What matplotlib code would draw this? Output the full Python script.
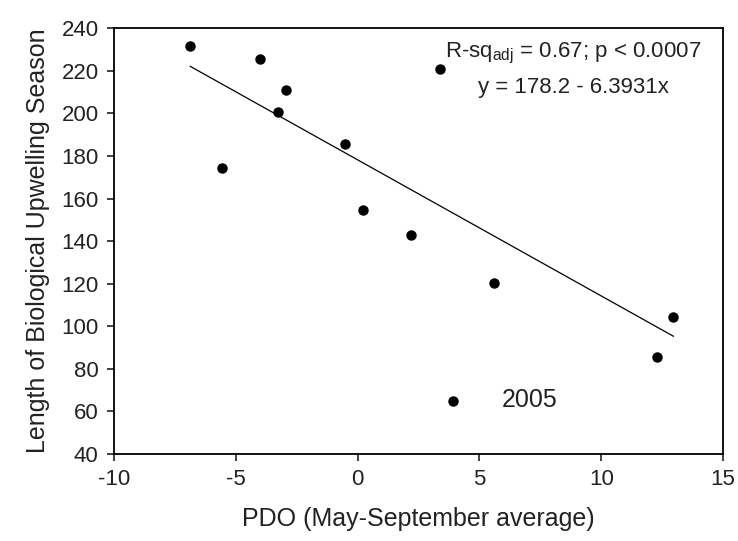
import numpy as np
import matplotlib
matplotlib.use("Agg")
import matplotlib.pyplot as plt

plt.rcParams['font.family'] = ['Liberation Sans', 'DejaVu Sans']
plt.rcParams['axes.unicode_minus'] = False

# PDO (May-September average) vs length of upwelling season
pdo = [-6.87, -5.58, -4.02, -2.96, -3.25, -0.52, 0.23, 2.18, 3.39, 5.61, 12.96, 12.28, 3.91]
season = [231.8, 174.5, 225.7, 211.0, 200.7, 185.6, 154.6, 142.7, 220.7, 120.5, 104.3, 85.7, 64.7]

# regression line as printed on the chart
intercept = 178.2
slope = -6.3931

xticks = [-10, -5, 0, 5, 10, 15]
yticks = [40, 60, 80, 100, 120, 140, 160, 180, 200, 220, 240]

fig = plt.figure(figsize=(7.38, 5.41), dpi=100)
ax = fig.add_axes([0.1545, 0.1608, 0.8252, 0.7869])

ax.plot(pdo, season, 'o', color='black', markersize=6.5, zorder=3)

xfit = np.array([min(pdo), max(pdo)])
ax.plot(xfit, intercept + slope * xfit, color='black', linewidth=0.9)

ax.set_xlim(-10, 15)
ax.set_ylim(40, 240)
ax.set_xticks(xticks)
ax.set_yticks(yticks)
ax.tick_params(direction='out', length=5, width=1.2, labelsize=16, colors='#222222', pad=6)
for s in ax.spines.values():
    s.set_linewidth(1.3)

ax.set_xlabel('PDO (May-September average)', fontsize=18, color='#222222', labelpad=12)
ax.set_ylabel('Length of Biological Upwelling Season', fontsize=18, color='#222222', labelpad=8)

ax.text(0.754, 0.942, r'R-sq$_{\mathregular{adj}}$ = 0.67; p < 0.0007', transform=ax.transAxes,
        ha='center', va='center', fontsize=16, color='#222222')
ax.text(0.754, 0.862, 'y = 178.2 - 6.3931x', transform=ax.transAxes,
        ha='center', va='center', fontsize=16, color='#222222')
ax.text(5.9, 65.3, '2005', ha='left', va='center', fontsize=18, color='#222222')

fig.savefig('out.png', dpi=100)
